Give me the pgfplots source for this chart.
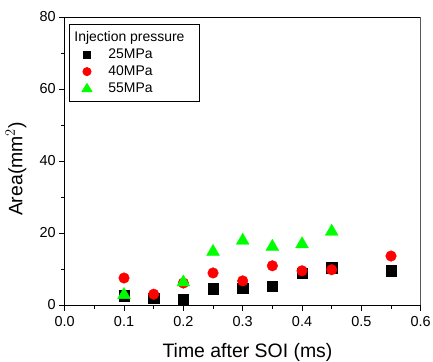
\documentclass[border=0pt]{standalone}
\usepackage{fontspec}
\setmainfont{Liberation Sans}
\usepackage{pgfplots}
\pgfplotsset{compat=1.18}
\begin{document}
\begin{tikzpicture}[x=1bp,y=1bp]
\path[use as bounding box] (-64.7bp,-57bp) rectangle (368.3bp,305bp);
\begin{axis}[
  at={(0,0)}, anchor=south west,
  scale only axis,
  width=356bp, height=288bp,
  xmin=0, xmax=0.6, ymin=0, ymax=80,
  xtick={0,0.1,...,0.6},
  minor xtick={0.05,0.15,...,0.55},
  ytick={0,20,...,80},
  minor ytick={10,30,50,70},
  xticklabel style={/pgf/number format/fixed,/pgf/number format/fixed zerofill,/pgf/number format/precision=1, yshift=-2.5bp},
  /pgf/number format/assume math mode=true,
  tick align=outside,
  axis x line*=bottom, axis y line*=left,
  major tick length=5.5bp, minor tick length=3.5bp,
  tick style={black, line width=0.7pt},
  axis line style={line width=0.9pt},
  ticklabel style={font=\fontsize{14.5}{16}\selectfont},
  xlabel={Time after SOI (ms)},
  ylabel={Area(mm$^2$)},
  label style={font=\fontsize{19.5}{22}\selectfont},
  xlabel style={at={(axis description cs:0.5135,-0.184)}, anchor=base},
  ylabel style={at={(axis description cs:-0.1368,0.472)}, anchor=center},
  legend style={at={(rel axis cs:0.0126,0.975)}, anchor=north west, draw=black, line width=0.8pt,
    font=\fontsize{14}{15}\selectfont, row sep=1.8bp, inner xsep=2bp, inner ysep=5bp},
  legend cell align=left,
]
\draw[line width=0.9pt] (rel axis cs:0,1) -- (rel axis cs:1,1) -- (rel axis cs:1,0);
\addlegendimage{empty legend}
\addlegendentry{\hspace*{-34bp}Injection pressure\hspace*{11bp}}
\addlegendimage{legend image code/.code={\path (-15bp,0) (19bp,0); \fill[black] (-3.6bp,-3.6bp) rectangle (3.6bp,3.6bp);}}
\addlegendentry{25MPa}
\addlegendimage{legend image code/.code={\path (-15bp,0) (19bp,0); \fill[red] (0,0) circle[radius=4.1bp];}}
\addlegendentry{40MPa}
\addlegendimage{legend image code/.code={\path (-15bp,0) (19bp,0); \fill[green] (-5.1bp,-3.2bp) -- (5.1bp,-3.2bp) -- (0,5bp) -- cycle;}}
\addlegendentry{55MPa}
\addplot[only marks, mark=square*, mark size=5.2bp, black, forget plot] coordinates {
(0.1,2.6) (0.15,1.9) (0.2,1.6) (0.25,4.5) (0.3,4.6) (0.35,5.2) (0.4,8.8) (0.45,10.4) (0.55,9.5)};
\addplot[only marks, mark=*, mark size=5.3bp, red, forget plot] coordinates {
(0.1,7.5) (0.15,3.0) (0.2,6.1) (0.25,8.9) (0.3,6.7) (0.35,10.9) (0.4,9.5) (0.45,9.8) (0.55,13.6)};
\addplot[only marks, mark=triangle*, mark size=7.4bp, green, forget plot] coordinates {
(0.1,2.8) (0.2,6.3) (0.25,14.8) (0.3,17.9) (0.35,16.2) (0.4,16.9) (0.45,20.4)};
\end{axis}
\end{tikzpicture}
\end{document}
